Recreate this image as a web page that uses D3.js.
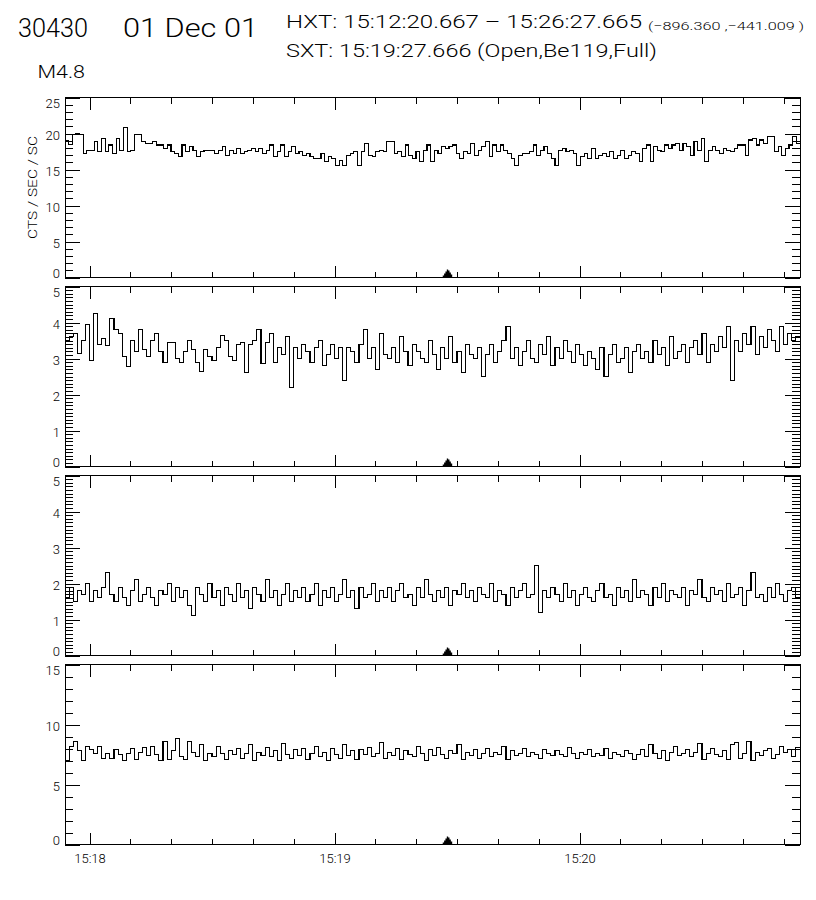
<!DOCTYPE html>
<html>
<head>
<meta charset="utf-8">
<script src="https://cdn.jsdelivr.net/npm/d3@7"></script>
<style>
  body { margin: 0; background: #fff; }
  text { font-family: Roboto, "Liberation Sans", Arial, sans-serif; font-weight: 300; fill: #000; }
</style>
</head>
<body>
<svg id="chart" width="816" height="900"></svg>
<script>
// ---- data ----
const t0 = new Date(Date.UTC(2001, 11, 1, 15, 17, 54));
const t1 = new Date(Date.UTC(2001, 11, 1, 15, 20, 54));
const sxtTime = new Date(Date.UTC(2001, 11, 1, 15, 19, 27, 666));

const titleId = "30430";
const titleDate = "01 Dec 01";
const hxtLine = "HXT: 15:12:20.667 \u2013 15:26:27.665";
const posLine = "(\u2212896.360 ,\u2212441.009 )";
const sxtLine = "SXT: 15:19:27.666 (Open,Be119,Full)";
const goesClass = "M4.8";
const yTitle = "CTS / SEC / SC";

const yMax = [25, 5, 5, 15];
const yMajorCount = [5, 5, 5, 3];
const yMinorCount = [25, 50, 50, 15];

// HXT L channel
const chanL = [
  19.0,18.5,19.8,20.0,19.8,17.2,17.6,17.6,18.9,17.5,19.3,17.5,18.4,17.2,19.3,17.6,20.8,17.5,17.7,19.8,
  19.8,18.9,18.6,18.6,18.9,18.4,18.4,17.9,18.4,17.5,17.2,16.8,18.4,17.5,18.2,17.7,16.8,17.5,17.7,17.7,
  17.7,17.2,17.7,18.2,17.0,17.7,17.2,17.9,17.2,17.5,17.7,17.9,17.5,17.9,17.2,17.7,18.4,16.8,17.5,18.4,
  16.8,17.5,18.2,17.2,17.5,17.0,17.2,16.8,16.5,16.5,17.2,16.1,16.8,16.5,15.6,16.3,15.6,17.0,17.2,17.5,
  15.6,17.5,18.6,17.0,16.8,17.5,17.7,17.5,18.9,18.9,
  17.2,17.5,16.8,18.4,17.0,16.5,17.5,16.1,17.7,18.4,16.1,17.7,17.2,18.2,17.9,18.2,18.4,17.2,16.5,17.5,
  17.2,18.6,17.0,17.7,18.2,18.9,16.8,18.4,17.5,18.4,17.7,17.2,16.5,15.6,17.0,17.2,17.2,17.5,18.4,17.0,
  17.7,18.2,17.2,16.5,15.6,17.7,17.9,17.5,17.7,17.2,15.6,16.8,17.2,16.5,17.9,16.5,17.0,17.2,16.8,17.5,
  16.5,17.0,17.7,16.5,17.0,17.5,17.2,16.1,17.9,18.4,16.1,18.2,17.7,17.5,18.4,17.9,18.4,18.6,17.7,18.6,
  18.2,17.0,18.9,17.7,19.3,16.1,17.7,18.2,17.7,17.2,17.9,17.7,17.5,17.9,18.4,18.4,17.0,19.1,19.3,18.4,
  19.1,18.6,19.6,19.6,17.5,18.2,17.0,17.9,18.4,19.6,18.6
];
// HXT M1 channel
const chanM1 = [
  3.5,3.6,3.7,3.15,3.5,3.95,2.95,4.26,3.4,3.55,3.35,4.1,3.8,3.7,3.05,2.78,3.5,3.2,3.8,3.25,
  3.05,3.5,3.7,3.2,2.9,3.45,3.45,3.0,2.9,3.2,3.5,3.25,2.9,2.65,3.25,3.05,2.95,3.3,3.65,3.5,
  3.05,2.95,3.4,3.45,2.6,3.4,3.5,3.8,2.85,3.45,3.7,2.9,3.3,3.1,3.6,2.2,3.3,3.0,3.4,3.2,
  2.9,3.3,3.5,2.8,3.1,3.4,3.0,3.3,2.4,3.3,3.2,2.9,3.4,3.8,3.0,3.3,2.7,3.7,3.1,3.0,
  3.3,2.9,3.6,3.2,2.8,3.4,3.2,3.0,2.9,3.5,3.1,2.7,3.3,3.0,3.6,2.9,3.2,2.6,3.4,3.1,
  3.0,3.3,2.5,3.1,3.4,2.9,3.2,3.5,3.9,3.0,3.3,2.8,3.2,3.5,3.0,2.9,3.4,3.1,3.6,2.8,
  3.3,3.0,3.5,3.2,2.9,3.4,3.1,2.8,3.2,3.0,2.7,3.3,2.5,3.1,3.4,2.9,3.0,3.3,2.6,3.2,
  3.4,3.0,3.2,2.9,3.5,3.1,3.3,2.8,3.6,3.0,3.2,3.4,2.9,3.3,3.5,3.1,3.7,2.9,3.4,3.2,
  3.6,3.3,3.9,2.4,3.5,3.2,3.7,3.4,3.9,3.1,3.6,3.3,3.8,3.5,3.2,3.9,3.4,3.7,3.5,3.6
];
// HXT M2 channel
const chanM2 = [
  1.6,1.9,1.5,1.8,1.7,2.0,1.5,1.8,1.6,1.9,2.3,1.7,1.5,1.9,1.6,1.4,1.8,2.1,1.5,1.7,
  1.9,1.6,1.4,1.8,1.7,2.0,1.5,1.9,1.6,1.8,1.4,1.1,1.9,1.7,1.5,2.0,1.6,1.8,1.4,1.9,
  1.7,1.5,2.0,1.6,1.8,1.3,1.9,1.7,1.5,2.1,1.6,1.8,1.4,1.7,2.0,1.5,1.8,1.6,1.9,1.5,
  1.7,2.0,1.4,1.8,1.6,1.9,1.5,1.7,2.1,1.6,1.8,1.3,1.9,1.6,1.7,2.0,1.5,1.8,1.6,1.9,
  1.5,1.8,2.0,1.6,1.7,1.4,1.9,1.6,2.1,1.7,1.5,1.8,1.6,1.9,1.4,1.8,1.7,2.0,1.6,1.8,
  1.5,1.9,1.7,1.6,2.0,1.5,1.8,1.7,1.4,1.9,1.6,1.8,2.0,1.6,1.7,2.5,1.2,1.8,1.6,1.9,
  1.7,1.5,2.0,1.6,1.8,1.4,1.7,1.9,1.6,1.5,1.8,2.0,1.6,1.7,1.4,1.9,1.6,1.8,1.5,2.1,
  1.6,1.8,1.7,1.4,1.9,1.6,2.0,1.5,1.8,1.7,1.6,1.9,1.4,1.8,1.7,2.1,1.6,1.5,1.9,1.7,
  1.8,1.5,2.0,1.6,1.7,1.9,1.4,1.8,2.3,1.6,1.7,1.5,1.9,1.6,2.0,1.7,1.5,1.8,1.9,1.6
];
// HXT H channel
const chanH = [
  7.0,8.2,8.6,7.8,7.0,8.2,7.9,7.6,8.2,7.2,7.6,7.2,7.9,7.5,7.0,7.6,8.0,7.1,7.7,8.1,
  7.4,8.2,7.5,7.0,8.6,7.1,7.8,8.8,7.3,7.1,8.6,7.7,7.3,8.3,7.0,7.6,7.3,8.2,7.6,7.1,
  7.8,7.5,8.0,7.2,7.6,8.3,7.0,7.7,7.4,8.1,7.3,7.8,7.0,8.4,7.5,7.2,7.9,7.4,8.0,7.1,
  7.6,8.2,7.3,7.7,7.0,8.0,7.5,7.2,8.3,7.4,7.8,7.1,7.9,7.5,8.1,7.3,7.6,8.5,7.2,7.7,
  7.4,8.0,7.1,7.8,7.5,7.3,8.2,7.6,7.0,7.9,7.4,8.1,7.5,7.2,7.8,7.6,8.3,7.1,7.7,7.4,
  7.9,7.2,7.6,8.0,7.3,7.7,7.5,8.2,7.1,7.8,7.4,7.6,8.0,7.3,7.7,7.5,7.2,7.9,7.6,7.4,
  7.8,7.5,7.3,8.1,7.6,7.2,7.7,7.5,7.9,7.3,7.6,7.4,8.0,7.2,7.7,7.5,7.3,7.8,7.6,7.1,
  7.5,7.9,7.3,8.3,7.6,7.2,7.8,7.0,7.7,8.2,7.4,7.6,7.9,7.3,7.7,8.4,7.1,7.6,8.0,7.5,
  7.3,7.8,7.1,8.3,8.5,7.2,7.6,8.6,7.0,7.7,7.4,7.8,8.0,7.2,7.5,8.2,7.7,7.9,7.3,8.1
];
const channels = [chanL, chanM1, chanM2, chanH];

// heights (px) of the little stepped marker showing the SXT image time
const markerSteps = [2, 4, 6, 8, 7, 5, 3];

// ---- layout ----
const plotLeft = 65, plotRight = 800;
const panelTop0 = 97.5, panelH = 180, panelPitch = 189;

const svg = d3.select("#chart");

const x = d3.scaleUtc().domain([t0, t1]).range([plotLeft, plotRight]);

// header
function header(str, xx, yy, size, len) {
  svg.append("text").attr("x", xx).attr("y", yy)
    .attr("font-size", size).attr("textLength", len).attr("lengthAdjust", "spacingAndGlyphs")
    .text(str);
}
header(titleId, 18, 36.5, 25, 70);
header(titleDate, 123, 36.5, 25, 135);
header(hxtLine, 286, 28.3, 19, 356);
header(posLine, 648, 30, 11.5, 156);
header(sxtLine, 286, 56.7, 19, 371);
header(goesClass, 37.5, 78.3, 18, 47.5);

// y title on first panel
svg.append("text")
  .attr("transform", `translate(36.5,${panelTop0 + panelH / 2}) rotate(-90)`)
  .attr("text-anchor", "middle")
  .attr("font-size", 12).attr("textLength", 103).attr("lengthAdjust", "spacingAndGlyphs")
  .text(yTitle);

channels.forEach((vals, p) => {
  const top = panelTop0 + p * panelPitch;
  const bottom = top + panelH;
  const y = d3.scaleLinear().domain([0, yMax[p]]).range([bottom, top]);
  const g = svg.append("g");

  const clipId = "clip" + p;
  svg.append("clipPath").attr("id", clipId)
    .append("rect").attr("x", plotLeft).attr("y", top)
    .attr("width", plotRight - plotLeft).attr("height", panelH);

  // step line, one bin per value
  const dt = (t1 - t0) / vals.length;
  const pts = vals.map((v, i) => [new Date(+t0 + i * dt), v]);
  pts.push([t1, vals[vals.length - 1]]);
  const line = d3.line()
    .x(d => x(d[0])).y(d => y(d[1]))
    .curve(d3.curveStepAfter);
  g.append("path")
    .attr("clip-path", `url(#${clipId})`)
    .attr("d", line(pts))
    .attr("fill", "none").attr("stroke", "#000").attr("stroke-width", 1.1)
    .attr("shape-rendering", "crispEdges");

  const majorY = y.ticks(yMajorCount[p]);
  const minorY = y.ticks(yMinorCount[p]).filter(v => !majorY.some(m => Math.abs(m - v) < 1e-9));

  // x ticks (inward) top and bottom
  const xAxes = [
    [d3.axisBottom(x).ticks(d3.utcSecond.every(10)).tickSize(-6).tickFormat(""), bottom],
    [d3.axisBottom(x).ticks(d3.utcMinute.every(1)).tickSize(-12)
        .tickPadding(9).tickFormat(p === 3 ? d3.utcFormat("%H:%M") : ""), bottom],
    [d3.axisTop(x).ticks(d3.utcSecond.every(10)).tickSize(-6).tickFormat(""), top],
    [d3.axisTop(x).ticks(d3.utcMinute.every(1)).tickSize(-12).tickFormat(""), top]
  ];
  xAxes.forEach(([ax, yy]) => {
    const a = g.append("g").attr("transform", `translate(0,${yy})`).call(ax);
    a.select(".domain").remove();
    a.selectAll("line").attr("shape-rendering", "crispEdges");
    a.selectAll("text").attr("font-size", 13).attr("font-family", null);
  });

  // y ticks (inward) left and right
  const yAxes = [
    [d3.axisLeft(y).tickValues(minorY).tickSize(-8).tickFormat(""), plotLeft],
    [d3.axisLeft(y).tickValues(majorY).tickSize(-15).tickPadding(5).tickFormat(d3.format("d")), plotLeft],
    [d3.axisRight(y).tickValues(minorY).tickSize(-8).tickFormat(""), plotRight],
    [d3.axisRight(y).tickValues(majorY).tickSize(-15).tickFormat(""), plotRight]
  ];
  yAxes.forEach(([ax, xx], k) => {
    const a = g.append("g").attr("transform", `translate(${xx},0)`).call(ax);
    a.select(".domain").remove();
    a.selectAll("line").attr("shape-rendering", "crispEdges");
    if (k === 1) {
      a.selectAll("text")
        .attr("font-size", 13).attr("font-family", null)
        .attr("dy", (d, i, n) => i === 0 ? "0px" : (i === n.length - 1 ? "10px" : "6px"));
    }
  });

  // frame
  g.append("rect")
    .attr("x", plotLeft).attr("y", top)
    .attr("width", plotRight - plotLeft).attr("height", panelH)
    .attr("fill", "none").attr("stroke", "#000").attr("stroke-width", 1)
    .attr("shape-rendering", "crispEdges");

  // SXT time marker at panel bottom
  const w = 1.35;
  const mx = x(sxtTime) - markerSteps.length * w / 2;
  const mpts = [];
  markerSteps.forEach((h, i) => {
    mpts.push([mx + i * w, bottom - h], [mx + (i + 1) * w, bottom - h]);
  });
  g.append("path")
    .attr("d", d3.line()([[mx, bottom], ...mpts, [mx + markerSteps.length * w, bottom]]) + "Z")
    .attr("fill", "#000").attr("stroke", "none");
});
</script>
</body>
</html>
